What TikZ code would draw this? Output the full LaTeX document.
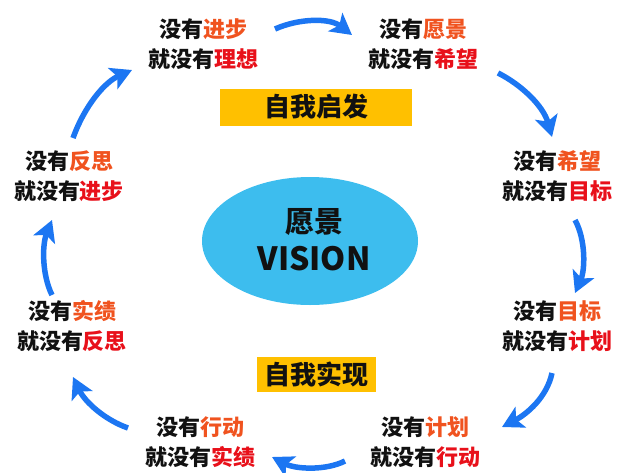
\documentclass[tikz,border=0pt]{standalone}
\usepackage{fontspec}
\newfontfamily\cjk{Noto Sans CJK SC}[BoldFont={* Black}]
\usetikzlibrary{arrows.meta,shapes.geometric}
\definecolor{cOrange}{HTML}{F0531F}
\definecolor{cRed}{HTML}{E8101A}
\definecolor{cBlue}{HTML}{1C76F2}
\definecolor{cSky}{HTML}{3DBDEE}
\definecolor{cYellow}{HTML}{FFC000}
\definecolor{cText}{HTML}{111111}
\newcommand{\pairtxt}[2]{没有\textcolor{cOrange}{#1}\\就没有\textcolor{cRed}{#2}}
\begin{document}
\begin{tikzpicture}[x=1pt,y=-1pt,
  pairnode/.style={align=center,inner sep=0pt,text=cText,font=\cjk\bfseries\fontsize{22}{30}\selectfont},
  tagbox/.style={fill=cYellow,inner sep=0pt,text=cText,font=\cjk\bfseries\fontsize{26}{30}\selectfont},
  cyclearrow/.style={draw=cBlue,line width=5.5pt,-{Stealth[length=21pt,width=23pt,inset=5pt]}}]
\useasboundingbox (0,0) rectangle (624,472);
% ellipse
\node[ellipse,fill=cSky,minimum width=216pt,minimum height=128pt,inner sep=0pt] (vision) at (310,241) {};
\node[align=center,text=cText,font=\cjk\bfseries,inner sep=0pt] (vtxt) at (314,240)
  {{\fontsize{29}{29}\selectfont 愿景}\\[10pt]{\fontsize{32}{32}\selectfont VISION}};
% tag boxes
\node[tagbox,minimum width=192pt,minimum height=37pt] (self1) at (316,107) {自我启发};
\node[tagbox,minimum width=119pt,minimum height=35pt] (self2) at (316,374) {自我实现};
% text pairs
\node[pairnode] (n1) at (203,44) {\pairtxt{进步}{理想}};
\node[pairnode] (n2) at (423,44) {\pairtxt{愿景}{希望}};
\node[pairnode] (n3) at (557,176) {\pairtxt{希望}{目标}};
\node[pairnode] (n4) at (557,326) {\pairtxt{目标}{计划}};
\node[pairnode] (n5) at (425,442) {\pairtxt{计划}{行动}};
\node[pairnode] (n6) at (200,442) {\pairtxt{行动}{实绩}};
\node[pairnode] (n7) at (72,326) {\pairtxt{实绩}{反思}};
\node[pairnode] (n8) at (69,176) {\pairtxt{反思}{进步}};
% arrow endpoints
\coordinate (a1s) at (275,29);  \coordinate (a1e) at (352,35);
\coordinate (a2s) at (498,73);  \coordinate (a2e) at (552,137);
\coordinate (a3s) at (575,220); \coordinate (a3e) at (575,293);
\coordinate (a4s) at (552,373); \coordinate (a4e) at (502,427);
\coordinate (a5s) at (345,461); \coordinate (a5e) at (272,457);
\coordinate (a6s) at (128,428); \coordinate (a6e) at (73,377);
\coordinate (a7s) at (52,295);  \coordinate (a7e) at (52,220);
\coordinate (a8s) at (73,138);  \coordinate (a8e) at (132,70);
\draw[cyclearrow] (a1s) .. controls (300,18) and (330,18) .. (a1e);
\draw[cyclearrow] (a2s) .. controls (520,84) and (543,105) .. (a2e);
\draw[cyclearrow] (a3s) .. controls (586,240) and (585,270) .. (a3e);
\draw[cyclearrow] (a4s) .. controls (547,397) and (527,414) .. (a4e);
\draw[cyclearrow] (a5s) .. controls (325,471) and (295,469) .. (a5e);
\draw[cyclearrow] (a6s) .. controls (105,420) and (85,402) .. (a6e);
\draw[cyclearrow] (a7s) .. controls (42,275) and (42,245) .. (a7e);
\draw[cyclearrow] (a8s) .. controls (85,105) and (105,82) .. (a8e);
\end{tikzpicture}
\end{document}
